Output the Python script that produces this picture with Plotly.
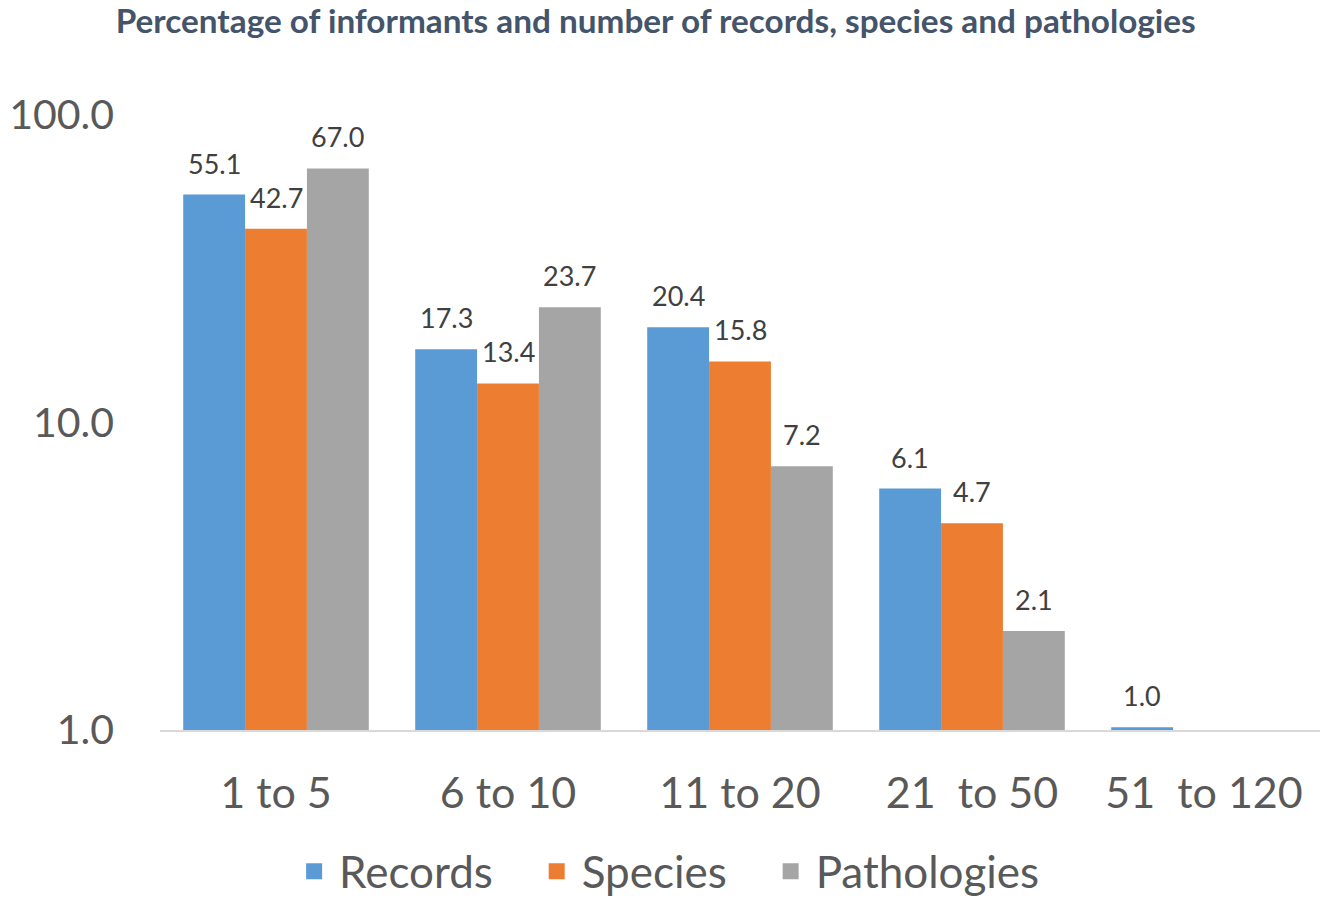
import math
import plotly.graph_objects as go

categories = ["1 to 5", "6 to 10", "11 to 20", "21  to 50", "51  to 120"]
records = [55.1, 17.3, 20.4, 6.1, 1.02]
species = [42.7, 13.4, 15.8, 4.7, None]
pathologies = [67.0, 23.7, 7.2, 2.1, None]

series = [
    ("Records", records, "#5B9BD5"),
    ("Species", species, "#ED7D31"),
    ("Pathologies", pathologies, "#A5A5A5"),
]

W, H = 1330, 901
ML, MR, MT, MB = 160, 10, 115, 171
BARGAP = 0.2
bar_px = (W - ML - MR) / len(categories) * (1 - BARGAP) / len(series)

fig = go.Figure()
for i, (name, vals, col) in enumerate(series):
    fig.add_trace(go.Bar(
        x=categories, y=vals, name=name, marker_color=col,
        marker_line_width=0, showlegend=False,
    ))
    # value labels sitting a bit above each bar (Excel style)
    for cat, v in zip(categories, vals):
        if v is None:
            continue
        fig.add_annotation(
            x=cat, y=math.log10(v), text=f"{v:.1f}", showarrow=False,
            xanchor="center", yanchor="bottom",
            xshift=(i - 1) * bar_px, yshift=13,
            font=dict(size=27, color="#404040"),
        )

# legend entries with bigger square swatches, padded for wider spacing
pad = "\u00a0" * 3
for name, vals, col in series:
    fig.add_trace(go.Scatter(
        x=[None], y=[None], mode="markers", name=name + pad,
        marker=dict(symbol="square", size=21, color=col),
    ))

fig.update_layout(
    width=W, height=H,
    paper_bgcolor="white", plot_bgcolor="white",
    font=dict(family="Lato, Open Sans, sans-serif", color="#595959"),
    title=dict(text="<b>Percentage of informants and number of records, species and pathologies</b>",
               x=0.493, xanchor="center", y=0.976, yanchor="middle",
               font=dict(size=33.3, color="#44546A")),
    barmode="group", bargap=BARGAP, bargroupgap=0,
    margin=dict(l=ML, r=MR, t=MT, b=MB),
    showlegend=True,
    legend=dict(orientation="h", xref="container", yref="container",
                x=0.514, xanchor="center", y=0.072, yanchor="top",
                font=dict(size=44, color="#595959"), itemwidth=40),
)
fig.update_xaxes(showline=True, linecolor="#D9D9D9", linewidth=2, ticks="",
                 tickfont=dict(size=43, color="#595959"), showgrid=False,
                 automargin=False, ticklabelstandoff=24)
fig.update_yaxes(type="log", range=[0, 2], tickvals=[1, 10, 100],
                 ticktext=["1.0", "10.0", "100.0"], showgrid=False, zeroline=False,
                 showline=False, tickfont=dict(size=41, color="#595959"), ticks="",
                 automargin=False, ticklabelstandoff=45)

fig.write_html("out.html", config={"displayModeBar": False},
               post_script="document.body.style.margin='0';")
